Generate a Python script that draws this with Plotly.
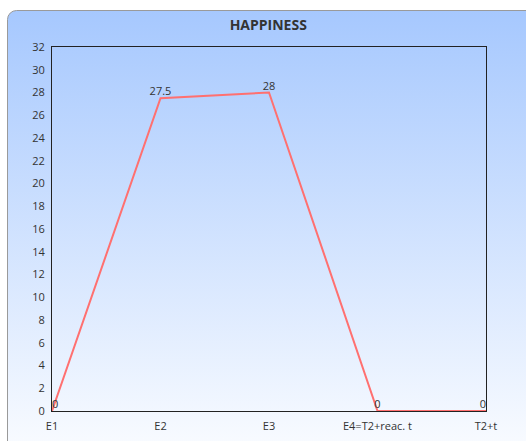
import plotly.graph_objects as go
import urllib.parse

# Happiness score at each event
categories = ["E1", "E2", "E3", "E4=T2+reac. t", "T2+t"]
happiness = [0, 27.5, 28, 0, 0]
label_positions = ["top right", "top center", "top center", "top center", "top left"]

W, H = 526, 441
ML, MR, MT, MB = 52, 40, 47, 30
plot_w = W - ML - MR
plot_h = H - MT - MB

# Rounded panel with a vertical blue-to-white gradient behind the chart
panel_svg = (
    "<svg xmlns='http://www.w3.org/2000/svg' width='540' height='440' viewBox='0 0 540 440'>"
    "<defs><linearGradient id='g' x1='0' y1='0' x2='0' y2='1'>"
    "<stop offset='0' stop-color='#a6c8fe'/>"
    "<stop offset='1' stop-color='#ffffff'/>"
    "</linearGradient></defs>"
    "<rect x='0.5' y='0.5' width='560' height='470' rx='9' ry='9' "
    "fill='url(#g)' stroke='#9a9a9a' stroke-width='1'/>"
    "</svg>"
)
panel_src = "data:image/svg+xml;charset=utf-8," + urllib.parse.quote(panel_svg)

px0, py0 = 7, 10
panel_w, panel_h = 540, 440

fig = go.Figure()
fig.add_trace(go.Scatter(
    x=categories,
    y=happiness,
    mode="lines+text",
    text=[f"{v:g}" for v in happiness],
    textposition=label_positions,
    textfont=dict(family="Open Sans", size=11, color="#333333"),
    line=dict(color="#ff7070", width=2),
    cliponaxis=False,
    hoverinfo="x+y",
))

fig.add_layout_image(
    source=panel_src,
    xref="paper", yref="paper",
    x=(px0 - ML) / plot_w,
    y=(H - MB - py0) / plot_h,
    sizex=panel_w / plot_w,
    sizey=panel_h / plot_h,
    xanchor="left", yanchor="top",
    sizing="stretch",
    layer="below",
)

fig.update_layout(
    width=W, height=H,
    margin=dict(l=ML, r=MR, t=MT, b=MB, autoexpand=False),
    paper_bgcolor="white",
    plot_bgcolor="rgba(0,0,0,0)",
    showlegend=False,
    title=dict(
        text="<b>HAPPINESS</b>",
        x=0.51, xanchor="center",
        y=1 - 25 / H, yanchor="middle",
        font=dict(family="Open Sans", size=14, color="#333333"),
    ),
    font=dict(family="Open Sans", size=11, color="#333333"),
)

fig.update_xaxes(
    type="category",
    range=[0, len(categories) - 1],
    automargin=False,
    showgrid=False, zeroline=False,
    showline=True, linecolor="#222222", linewidth=1, mirror=True,
    ticks="", ticklabelstandoff=5,
    tickfont=dict(family="Open Sans", size=11, color="#333333"),
)
fig.update_yaxes(
    range=[0, 32], dtick=2,
    automargin=False,
    showgrid=False, zeroline=False,
    showline=True, linecolor="#222222", linewidth=1, mirror=True,
    ticks="", ticklabelstandoff=4,
    tickfont=dict(family="Open Sans", size=11, color="#333333"),
)

fig.write_html("out.html")
